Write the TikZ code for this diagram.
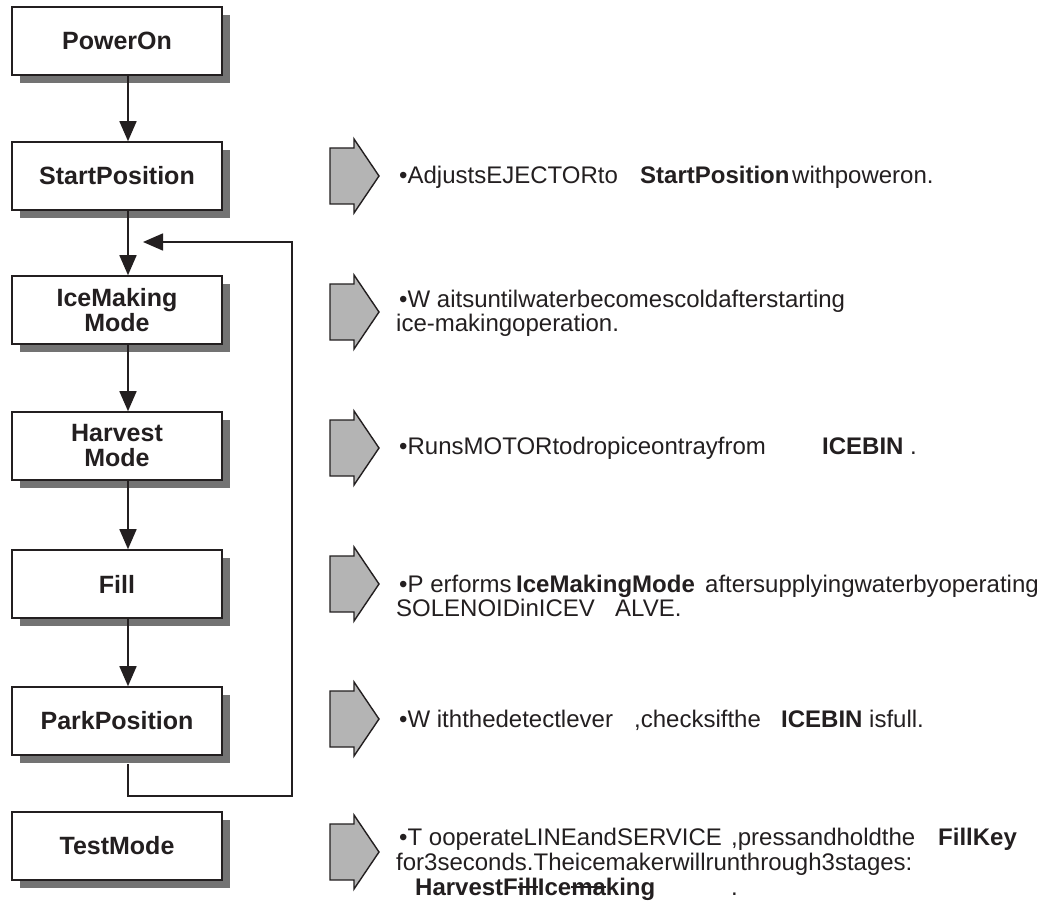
\documentclass[tikz,border=0pt]{standalone}
\usepackage{fontspec}
\setmainfont{Liberation Sans}
\usetikzlibrary{arrows.meta,shadows}
\definecolor{ink}{HTML}{231F20}
\definecolor{shade}{HTML}{737373}
\definecolor{blockfill}{HTML}{B4B4B4}
\newsavebox\stkbox
\newcommand\stk[1]{\sbox\stkbox{#1}\rlap{\rule[0.3em]{\wd\stkbox}{1.4pt}}\usebox\stkbox}
\newcommand\blockarr[2]{\draw[blockarrow] (330,#2-28) -- (354,#2-28) -- (354,#2-37) -- (379,#2) -- (354,#2+37) -- (354,#2+28) -- (330,#2+28) -- cycle coordinate (#1) at (379,#2);}
\begin{document}
\begin{tikzpicture}[x=1pt,y=-1pt,
  stage/.style={draw=ink, line width=1.6pt, fill=white, minimum width=210pt, minimum height=68pt, inner sep=0pt, align=center, font=\fontsize{25}{25}\selectfont\bfseries, text=ink, drop shadow={fill=shade, opacity=1, shadow xshift=8pt, shadow yshift=-8pt}},
  flow/.style={draw=ink, line width=1.6pt, -{Triangle[length=20pt,width=17pt]}},
  txt/.style={anchor=base west, inner sep=0pt, font=\fontsize{24}{25}\selectfont, text=ink},
  blockarrow/.style={draw=ink, line width=1.4pt, fill=blockfill, line join=miter}]
\useasboundingbox (0,0) rectangle (1040,901);
\fill[white] (0,0) rectangle (1040,901);

% stage boxes
\node[stage] (pow)   at (117,41)  {PowerOn};
\node[stage] (start) at (117,176) {StartPosition};
\node[stage] (ice)   at (117,310) {IceMaking\\Mode};
\node[stage] (harv)  at (117,446) {Harvest\\Mode};
\node[stage] (fill)  at (117,584) {Fill};
\node[stage] (park)  at (117,721) {ParkPosition};
\node[stage] (test)  at (117,846) {TestMode};

% connectors
\draw[flow] ([xshift=11pt]pow.south)   -- ([xshift=11pt]start.north);
\draw[flow] ([xshift=11pt]start.south) -- ([xshift=11pt]ice.north);
\draw[flow] ([xshift=11pt]ice.south)   -- ([xshift=11pt]harv.north);
\draw[flow] ([xshift=11pt]harv.south)  -- ([xshift=11pt]fill.north);
\draw[flow] ([xshift=11pt]fill.south)  -- ([xshift=11pt]park.north);
\coordinate (loopstart) at (128,764);
\coordinate (loopcorner) at (292,796);
\coordinate (loopend) at (143,242);
\draw[flow] (loopstart) |- (loopcorner) |- (loopend);

% block arrows
\blockarr{a1}{176}
\blockarr{a2}{312}
\blockarr{a3}{448}
\blockarr{a4}{584}
\blockarr{a5}{719}
\blockarr{a6}{852}

% descriptions
\node[txt] (t1a) at (399,184) {•AdjustsEJECTORto};
\node[txt] (t1b) at (640,184) {\textbf{StartPosition}};
\node[txt] (t1c) at (792,184) {withpoweron.};

\node[txt] (t2a) at (399,307) {•W aitsuntilwaterbecomescoldafterstarting};
\node[txt] (t2b) at (396,331) {ice-makingoperation.};

\node[txt] (t3a) at (399,454) {•RunsMOTORtodropiceontrayfrom};
\node[txt] (t3b) at (822,454) {\textbf{ICEBIN} .};

\node[txt] (t4a) at (399,592) {•P erforms};
\node[txt] (t4b) at (516,592) {\textbf{IceMakingMode}};
\node[txt] (t4c) at (705,592) {aftersupplyingwaterbyoperating};
\node[txt] (t4d) at (396,616) {SOLENOIDinICEV};
\node[txt] (t4e) at (615,616) {ALVE.};

\node[txt] (t5a) at (399,727) {•W iththedetectlever};
\node[txt] (t5b) at (634,727) {,checksifthe};
\node[txt] (t5c) at (781,727) {\textbf{ICEBIN} isfull.};

\node[txt] (t6a) at (399,845) {•T ooperateLINEandSERVICE};
\node[txt] (t6b) at (731,845) {,pressandholdthe};
\node[txt] (t6c) at (938,845) {\textbf{FillKey}};
\node[txt] (t6d) at (396,870) {for3seconds.Theicemakerwillrunthrough3stages:};
\node[txt] (t6e) at (415,895) {\textbf{HarvestF\stk{ill}Ice\stk{ma}king}};
\node[txt] (t6f) at (731,895) {.};
\end{tikzpicture}
\end{document}
